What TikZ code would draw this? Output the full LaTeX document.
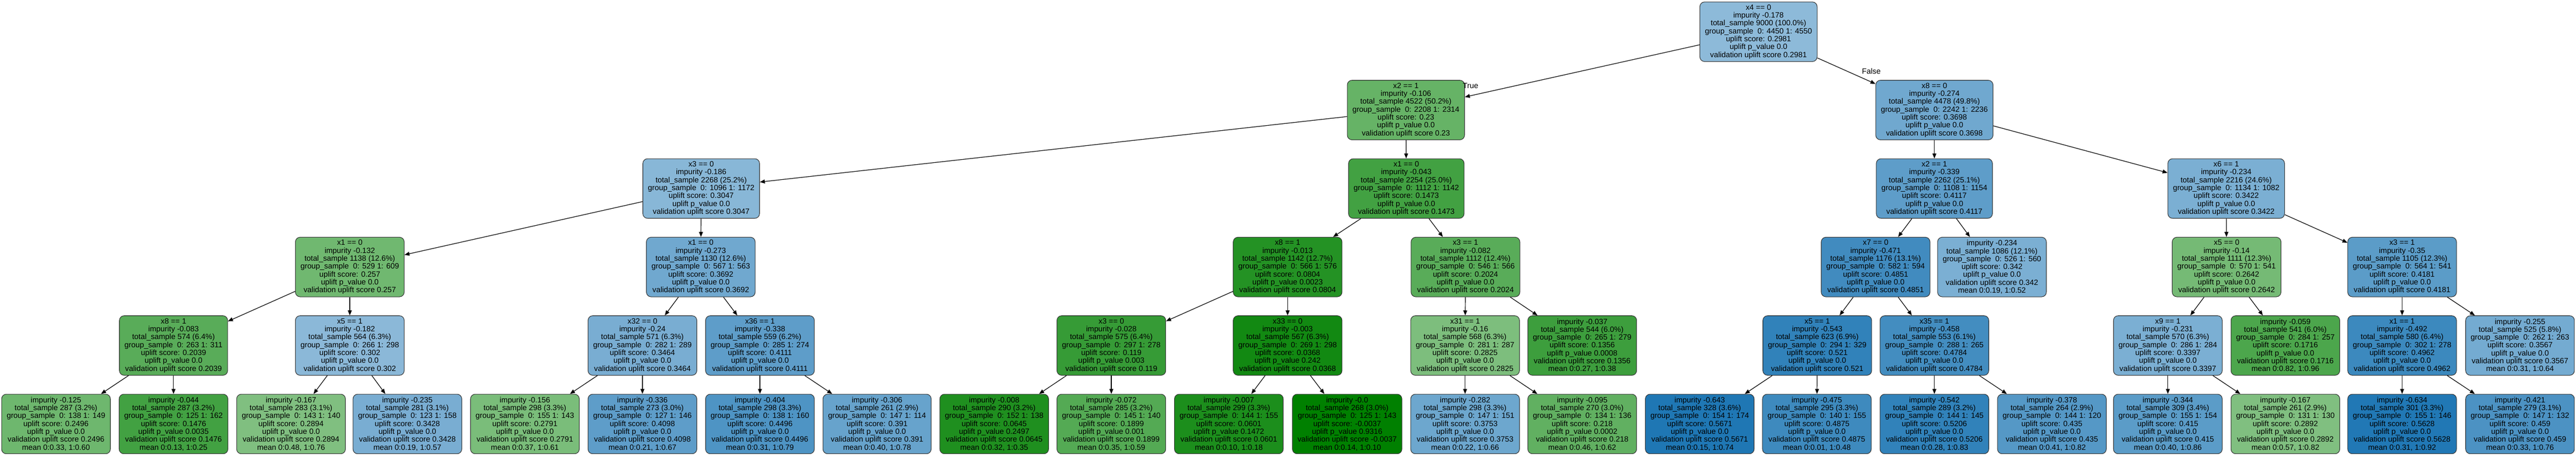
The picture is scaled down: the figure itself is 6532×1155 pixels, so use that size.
\documentclass[tikz,border=0pt]{standalone}
\usepackage{fontspec}
\setmainfont{Liberation Sans}
\usetikzlibrary{arrows.meta}
\definecolor{upgreen}{RGB}{0,128,0}
\definecolor{upblue}{RGB}{31,119,180}
\newcommand{\splitinfo}[7]{#1\\impurity #2\\total\_sample #3\\group\_sample~~0: #4 1: #5\\uplift score: #6\\uplift p\_value #7\\validation uplift score #6}
\newcommand{\leafinfo}[8]{impurity #1\\total\_sample #2\\group\_sample~~0: #3 1: #4\\uplift score: #5\\uplift p\_value #6\\validation uplift score #5\\mean 0:#7, 1:#8}

\begin{document}
\begin{tikzpicture}[
    x=0.01cm, y=-0.01cm,
    tnode/.style={draw=black!80, line width=0.4pt, rounded corners=0.12cm, align=center,
        inner xsep=0.13cm, inner ysep=0pt, minimum height=1.51cm,
        font=\fontsize{5.5}{5.69}\selectfont},
    grn/.style={tnode, fill=upgreen!#1!white},
    blu/.style={tnode, fill=upblue!#1!white},
    branch/.style={-{Triangle[length=3.6pt,width=2.8pt]}, line width=0.45pt},
    lbl/.style={font=\fontsize{5.5}{5.69}\selectfont, inner sep=0pt},
]
\path[use as bounding box, fill=white] (0,0) rectangle (6532,1155);

% root and first split
\node[blu=51] (n0) at (4459,80.5) {\splitinfo{x4 == 0}{-0.178}{9000 (100.0\%)}{4450}{4550}{0.2981}{0.0}};
\node[grn=60] (a) at (3565,279) {\splitinfo{x2 == 1}{-0.106}{4522 (50.2\%)}{2208}{2314}{0.23}{0.0}};
\node[blu=64] (b) at (4905,279) {\splitinfo{x8 == 0}{-0.274}{4478 (49.8\%)}{2242}{2236}{0.3698}{0.0}};

% depth 2
\node[blu=53] (aa) at (1778,478) {\splitinfo{x3 == 0}{-0.186}{2268 (25.2\%)}{1096}{1172}{0.3047}{0.0}};
\node[grn=74] (ab) at (3566,478) {\splitinfo{x1 == 0}{-0.043}{2254 (25.0\%)}{1112}{1142}{0.1473}{0.0}};
\node[blu=72] (ba) at (4905,478) {\splitinfo{x2 == 1}{-0.339}{2262 (25.1\%)}{1108}{1154}{0.4117}{0.0}};
\node[blu=59] (bb) at (5645,478) {\splitinfo{x6 == 1}{-0.234}{2216 (24.6\%)}{1134}{1082}{0.3422}{0.0}};

% depth 3
\node[grn=56] (aaa) at (887,677) {\splitinfo{x1 == 0}{-0.132}{1138 (12.6\%)}{529}{609}{0.257}{0.0}};
\node[blu=64] (aab) at (1777,677) {\splitinfo{x1 == 0}{-0.273}{1130 (12.6\%)}{567}{563}{0.3692}{0.0}};
\node[grn=86] (aba) at (3265,677) {\splitinfo{x8 == 1}{-0.013}{1142 (12.7\%)}{566}{576}{0.0804}{0.0023}};
\node[grn=65] (abb) at (3716,677) {\splitinfo{x3 == 1}{-0.082}{1112 (12.4\%)}{546}{566}{0.2024}{0.0}};
\node[blu=85] (baa) at (4756,677) {\splitinfo{x7 == 0}{-0.471}{1176 (13.1\%)}{582}{594}{0.4851}{0.0}};
\node[blu=59] (bab) at (5051,677) {\leafinfo{-0.234}{1086 (12.1\%)}{526}{560}{0.342}{0.0}{0.19}{0.52}};
\node[grn=54] (bba) at (5646,677) {\splitinfo{x5 == 0}{-0.14}{1111 (12.3\%)}{570}{541}{0.2642}{0.0}};
\node[blu=73] (bbb) at (6091,677) {\splitinfo{x3 == 1}{-0.35}{1105 (12.3\%)}{564}{541}{0.4181}{0.0}};

% depth 4
\node[grn=65] (aaaa) at (440,876) {\splitinfo{x8 == 1}{-0.083}{574 (6.4\%)}{263}{311}{0.2039}{0.0}};
\node[blu=52] (aaab) at (887,876) {\splitinfo{x5 == 1}{-0.182}{564 (6.3\%)}{266}{298}{0.302}{0.0}};
\node[blu=60] (aaba) at (1629,876) {\splitinfo{x32 == 0}{-0.24}{571 (6.3\%)}{282}{289}{0.3464}{0.0}};
\node[blu=72] (aabb) at (1927,876) {\splitinfo{x36 == 1}{-0.338}{559 (6.2\%)}{285}{274}{0.4111}{0.0}};
\node[grn=79] (abaa) at (2818,876) {\splitinfo{x3 == 0}{-0.028}{575 (6.4\%)}{297}{278}{0.119}{0.003}};
\node[grn=93] (abab) at (3265,876) {\splitinfo{x33 == 0}{-0.003}{567 (6.3\%)}{269}{298}{0.0368}{0.242}};
\node[grn=51] (abba) at (3715,876) {\splitinfo{x31 == 1}{-0.16}{568 (6.3\%)}{281}{287}{0.2825}{0.0}};
\node[grn=76] (abbb) at (4012,876) {\leafinfo{-0.037}{544 (6.0\%)}{265}{279}{0.1356}{0.0008}{0.27}{0.38}};
\node[blu=92] (baaa) at (4608,876) {\splitinfo{x5 == 1}{-0.543}{623 (6.9\%)}{294}{329}{0.521}{0.0}};
\node[blu=84] (baab) at (4905,876) {\splitinfo{x35 == 1}{-0.458}{553 (6.1\%)}{288}{265}{0.4784}{0.0}};
\node[blu=59] (bbaa) at (5497,876) {\splitinfo{x9 == 1}{-0.231}{570 (6.3\%)}{286}{284}{0.3397}{0.0}};
\node[grn=70] (bbab) at (5795,876) {\leafinfo{-0.059}{541 (6.0\%)}{284}{257}{0.1716}{0.0}{0.82}{0.96}};
\node[blu=87] (bbba) at (6091,876) {\splitinfo{x1 == 1}{-0.492}{580 (6.4\%)}{302}{278}{0.4962}{0.0}};
\node[blu=62] (bbbb) at (6390,876) {\leafinfo{-0.255}{525 (5.8\%)}{262}{263}{0.3567}{0.0}{0.31}{0.64}};

% depth 5, all leaves
\node[grn=57] (aaaaa) at (142,1075) {\leafinfo{-0.125}{287 (3.2\%)}{138}{149}{0.2496}{0.0}{0.33}{0.60}};
\node[grn=74] (aaaab) at (440,1075) {\leafinfo{-0.044}{287 (3.2\%)}{125}{162}{0.1476}{0.0035}{0.13}{0.25}};
\node[grn=50] (aaaba) at (738,1075) {\leafinfo{-0.167}{283 (3.1\%)}{143}{140}{0.2894}{0.0}{0.48}{0.76}};
\node[blu=60] (aaabb) at (1033,1075) {\leafinfo{-0.235}{281 (3.1\%)}{123}{158}{0.3428}{0.0}{0.19}{0.57}};
\node[grn=52] (aabaa) at (1331,1075) {\leafinfo{-0.156}{298 (3.3\%)}{155}{143}{0.2791}{0.0}{0.37}{0.61}};
\node[blu=72] (aabab) at (1629,1075) {\leafinfo{-0.336}{273 (3.0\%)}{127}{146}{0.4098}{0.0}{0.21}{0.67}};
\node[blu=79] (aabba) at (1927,1075) {\leafinfo{-0.404}{298 (3.3\%)}{138}{160}{0.4496}{0.0}{0.31}{0.79}};
\node[blu=68] (aabbb) at (2224,1075) {\leafinfo{-0.306}{261 (2.9\%)}{147}{114}{0.391}{0.0}{0.40}{0.78}};
\node[grn=88] (abaaa) at (2521,1075) {\leafinfo{-0.008}{290 (3.2\%)}{152}{138}{0.0645}{0.2497}{0.32}{0.35}};
\node[grn=67] (abaab) at (2818,1075) {\leafinfo{-0.072}{285 (3.2\%)}{145}{140}{0.1899}{0.001}{0.35}{0.59}};
\node[grn=89] (ababa) at (3116,1075) {\leafinfo{-0.007}{299 (3.3\%)}{144}{155}{0.0601}{0.1472}{0.10}{0.18}};
\node[grn=100] (ababb) at (3416,1075) {\leafinfo{-0.0}{268 (3.0\%)}{125}{143}{-0.0037}{0.9316}{0.14}{0.10}};
\node[blu=65] (abbaa) at (3715,1075) {\leafinfo{-0.282}{298 (3.3\%)}{147}{151}{0.3753}{0.0}{0.22}{0.66}};
\node[grn=62] (abbab) at (4012,1075) {\leafinfo{-0.095}{270 (3.0\%)}{134}{136}{0.218}{0.0002}{0.46}{0.62}};
\node[blu=100] (baaaa) at (4310,1075) {\leafinfo{-0.643}{328 (3.6\%)}{154}{174}{0.5671}{0.0}{0.15}{0.74}};
\node[blu=86] (baaab) at (4607,1075) {\leafinfo{-0.475}{295 (3.3\%)}{140}{155}{0.4875}{0.0}{0.01}{0.48}};
\node[blu=92] (baaba) at (4905,1075) {\leafinfo{-0.542}{289 (3.2\%)}{144}{145}{0.5206}{0.0}{0.28}{0.83}};
\node[blu=76] (baabb) at (5203,1075) {\leafinfo{-0.378}{264 (2.9\%)}{144}{120}{0.435}{0.0}{0.41}{0.82}};
\node[blu=73] (bbaaa) at (5497,1075) {\leafinfo{-0.344}{309 (3.4\%)}{155}{154}{0.415}{0.0}{0.40}{0.86}};
\node[grn=50] (bbaab) at (5795,1075) {\leafinfo{-0.167}{261 (2.9\%)}{131}{130}{0.2892}{0.0}{0.57}{0.82}};
\node[blu=99] (bbbaa) at (6091,1075) {\leafinfo{-0.634}{301 (3.3\%)}{155}{146}{0.5628}{0.0}{0.31}{0.92}};
\node[blu=80] (bbbab) at (6390,1075) {\leafinfo{-0.421}{279 (3.1\%)}{147}{132}{0.459}{0.0}{0.33}{0.76}};

% branches
\draw[branch] (n0) -- (a);
\draw[branch] (n0) -- (b);
\node[lbl] (ltrue) at (3729,217) {True};
\node[lbl] (lfalse) at (4745,181) {False};
\draw[branch] (a) -- (aa);
\draw[branch] (a) -- (ab);
\draw[branch] (b) -- (ba);
\draw[branch] (b) -- (bb);
\draw[branch] (aa) -- (aaa);
\draw[branch] (aa) -- (aab);
\draw[branch] (ab) -- (aba);
\draw[branch] (ab) -- (abb);
\draw[branch] (ba) -- (baa);
\draw[branch] (ba) -- (bab);
\draw[branch] (bb) -- (bba);
\draw[branch] (bb) -- (bbb);
\draw[branch] (aaa) -- (aaaa);
\draw[branch] (aaa) -- (aaab);
\draw[branch] (aab) -- (aaba);
\draw[branch] (aab) -- (aabb);
\draw[branch] (aba) -- (abaa);
\draw[branch] (aba) -- (abab);
\draw[branch] (abb) -- (abba);
\draw[branch] (abb) -- (abbb);
\draw[branch] (baa) -- (baaa);
\draw[branch] (baa) -- (baab);
\draw[branch] (bba) -- (bbaa);
\draw[branch] (bba) -- (bbab);
\draw[branch] (bbb) -- (bbba);
\draw[branch] (bbb) -- (bbbb);
\draw[branch] (aaaa) -- (aaaaa);
\draw[branch] (aaaa) -- (aaaab);
\draw[branch] (aaab) -- (aaaba);
\draw[branch] (aaab) -- (aaabb);
\draw[branch] (aaba) -- (aabaa);
\draw[branch] (aaba) -- (aabab);
\draw[branch] (aabb) -- (aabba);
\draw[branch] (aabb) -- (aabbb);
\draw[branch] (abaa) -- (abaaa);
\draw[branch] (abaa) -- (abaab);
\draw[branch] (abab) -- (ababa);
\draw[branch] (abab) -- (ababb);
\draw[branch] (abba) -- (abbaa);
\draw[branch] (abba) -- (abbab);
\draw[branch] (baaa) -- (baaaa);
\draw[branch] (baaa) -- (baaab);
\draw[branch] (baab) -- (baaba);
\draw[branch] (baab) -- (baabb);
\draw[branch] (bbaa) -- (bbaaa);
\draw[branch] (bbaa) -- (bbaab);
\draw[branch] (bbba) -- (bbbaa);
\draw[branch] (bbba) -- (bbbab);
\end{tikzpicture}
\end{document}
